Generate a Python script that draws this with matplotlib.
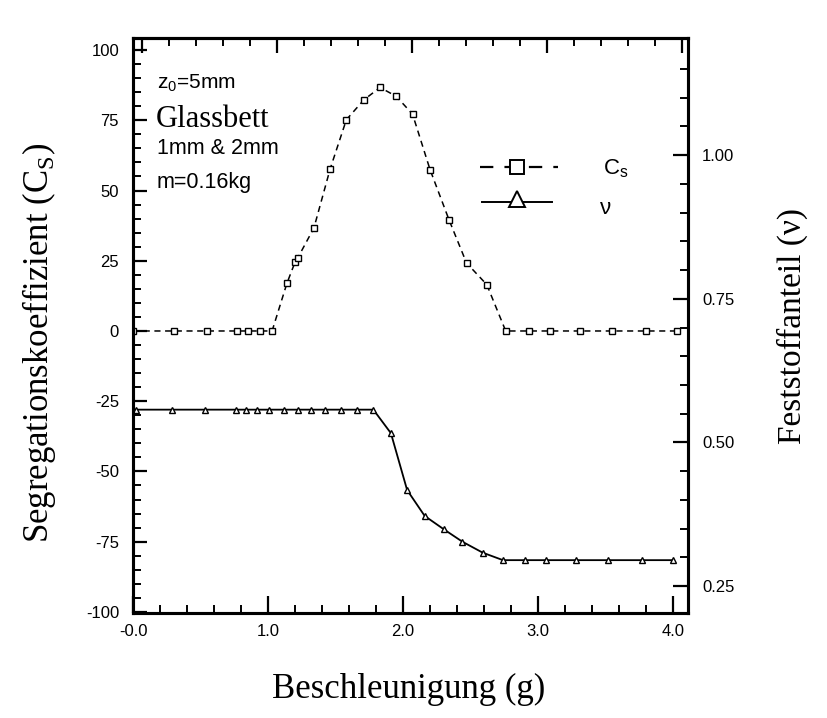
import matplotlib
matplotlib.use("Agg")
import matplotlib.pyplot as plt
from matplotlib.ticker import MultipleLocator, FixedLocator
from matplotlib.lines import Line2D

plt.rcParams["font.family"] = ["Liberation Sans", "DejaVu Sans"]
plt.rcParams["mathtext.fontset"] = "custom"
plt.rcParams["mathtext.rm"] = "Liberation Serif"
plt.rcParams["mathtext.sf"] = "Liberation Sans"
plt.rcParams["axes.unicode_minus"] = False

# Segregationskoeffizient C_s (linke Achse)
cs_x = [0.00, 0.30, 0.55, 0.77, 0.85, 0.94, 1.03, 1.14, 1.20, 1.22, 1.34, 1.46, 1.58, 1.71,
        1.83, 1.95, 2.07, 2.20, 2.34, 2.47, 2.62, 2.76, 2.93, 3.09, 3.31, 3.55, 3.80, 4.03]
cs_y = [0, 0, 0, 0, 0, 0, 0, 17.0, 24.5, 26.0, 36.7, 57.7, 75.2, 82.3,
        86.7, 83.5, 77.2, 57.4, 39.6, 24.2, 16.5, 0, 0, 0, 0, 0, 0, 0]

# Feststoffanteil v (rechte Achse)
v_x = [0.02, 0.29, 0.53, 0.76, 0.84, 0.92, 1.01, 1.12, 1.22, 1.32, 1.42, 1.54, 1.66, 1.78,
       1.91, 2.03, 2.16, 2.30, 2.44, 2.59, 2.74, 2.90, 3.06, 3.28, 3.52, 3.77, 4.00]
v_y = [0.557, 0.557, 0.557, 0.557, 0.557, 0.557, 0.557, 0.557, 0.557, 0.557, 0.557, 0.557, 0.557, 0.557,
       0.516, 0.417, 0.372, 0.349, 0.327, 0.308, 0.295, 0.295, 0.295, 0.295, 0.295, 0.295, 0.295]

x_ticks = [0, 1, 2, 3, 4]
x_labels = ["-0.0", "1.0", "2.0", "3.0", "4.0"]
left_ticks = [-100, -75, -50, -25, 0, 25, 50, 75, 100]
right_ticks = [0.25, 0.50, 0.75, 1.00]
right_labels = ["0.25", "0.50", "0.75", "1.00"]

W, H = 827, 718
fig = plt.figure(figsize=(W / 100, H / 100), dpi=100)
ax = fig.add_axes([133 / W, 1 - 613 / H, (688 - 133) / W, (613 - 38) / H])
ax2 = ax.twinx()

ax.plot(cs_x, cs_y, color="black", lw=1.1, dashes=(4, 3), marker="s", ms=4.2,
        mfc="white", mec="black", mew=1.0)
ax2.plot(v_x, v_y, color="black", lw=1.3, marker="^", ms=4.5,
         mfc="white", mec="black", mew=1.0)

ax.set_xlim(0, 4.11)
ax.set_ylim(-100.4, 104.3)
ax2.set_ylim(0.203, 1.204)

ax.set_xticks(x_ticks)
ax.set_xticklabels(x_labels)
ax.xaxis.set_minor_locator(MultipleLocator(0.2))
ax.set_yticks(left_ticks)
ax.yaxis.set_minor_locator(MultipleLocator(5))
ax2.set_yticks(right_ticks)
ax2.set_yticklabels(right_labels)
ax2.yaxis.set_minor_locator(FixedLocator([0.30, 0.35, 0.40, 0.45, 0.55, 0.60, 0.65, 0.70,
                                          0.80, 0.85, 0.90, 0.95, 1.05, 1.10, 1.15]))

# obere Achse: Striche etwas versetzt wie im Original
top = ax.secondary_xaxis("top", functions=(lambda x: x - 0.067, lambda x: x + 0.067))
top.set_xticks(x_ticks)
top.set_xticklabels([])
top.xaxis.set_minor_locator(MultipleLocator(0.2))
top.tick_params(which="major", direction="in", length=11, width=1.6)
top.tick_params(which="minor", direction="in", length=6, width=1.4)

for a in (ax, ax2, top):
    for s in a.spines.values():
        s.set_linewidth(2.2)

ax.tick_params(axis="x", which="major", direction="in", length=12, width=1.6, pad=8, labelsize=12)
ax.tick_params(axis="x", which="minor", direction="in", length=6, width=1.4)
ax.tick_params(axis="y", which="major", direction="in", length=10, width=1.6, pad=10, labelsize=12)
ax.tick_params(axis="y", which="minor", direction="in", length=6, width=1.4)
ax2.tick_params(axis="y", which="major", direction="in", length=11, width=1.6, pad=10, labelsize=12)
ax2.tick_params(axis="y", which="minor", direction="in", length=6, width=1.4)

serif = "Liberation Serif"
ax.set_xlabel("Beschleunigung (g)", fontfamily=serif, fontsize=25)
ax.xaxis.set_label_coords(0.497, -0.104)
ax.set_ylabel(r"Segregationskoeffizient (C$_\mathrm{S}$)", fontfamily=serif, fontsize=25)
ax.yaxis.set_label_coords(-0.135, 0.47)
ax2.set_ylabel("Feststoffanteil (ν)", fontfamily=serif, fontsize=24, rotation=90)
ax2.yaxis.set_label_coords(1.16, 0.5)


def fx(px):
    return px / W


def fy(py):
    return 1 - py / H


# Beschriftung oben links
fig.text(fx(157), fy(88), r"z$_\mathsf{0}$=5mm", fontsize=15, va="baseline")
fig.text(fx(156), fy(127), "Glassbett", fontfamily=serif, fontsize=22, va="baseline")
fig.text(fx(157), fy(154), "1mm & 2mm", fontsize=15.5, va="baseline")
fig.text(fx(157), fy(188), "m=0.16kg", fontsize=15.5, va="baseline")

# Legende von Hand
fig.add_artist(Line2D([fx(480), fx(558)], [fy(167), fy(167)], color="black", lw=1.6, dashes=(6, 5)))
fig.add_artist(Line2D([fx(517)], [fy(167)], marker="s", ms=10, mfc="white", mec="black", mew=1.4))
fig.text(fx(603), fy(169), r"C$_\mathsf{s}$", fontsize=16, va="center")
fig.add_artist(Line2D([fx(482), fx(552)], [fy(202), fy(202)], color="black", lw=1.4))
fig.add_artist(Line2D([fx(517)], [fy(199)], marker="^", ms=11, mfc="white", mec="black", mew=1.4))
fig.text(fx(600), fy(208), "ν", fontsize=16, va="center")

fig.savefig("out.png", dpi=100, facecolor="white")
